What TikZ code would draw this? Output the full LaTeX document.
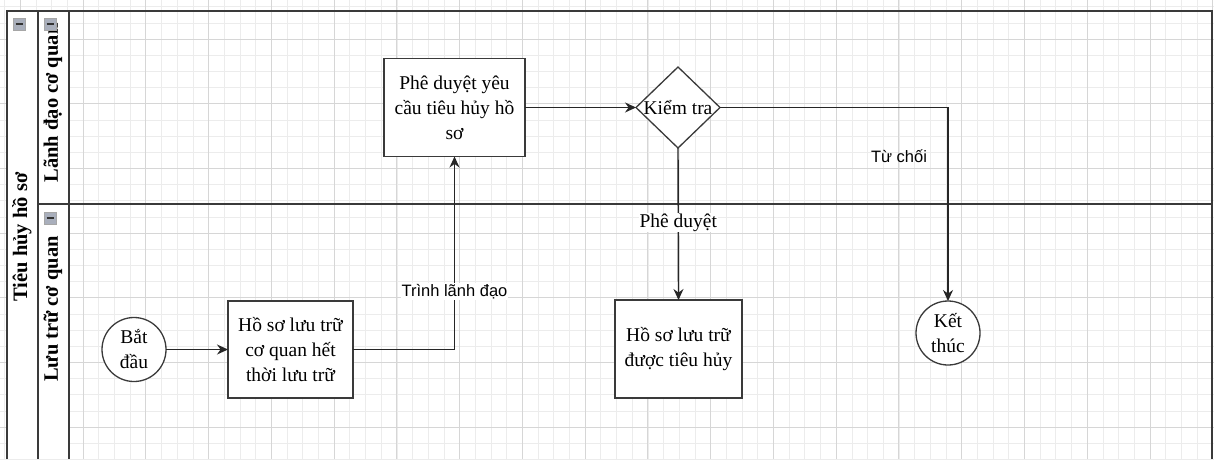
\documentclass[tikz,border=0pt]{standalone}
\usepackage{fontspec}
\setmainfont{Liberation Serif}
\newfontfamily\arialf{Liberation Sans}
\usetikzlibrary{shapes.geometric,arrows.meta}
\definecolor{frame}{HTML}{3A3A3A}
\definecolor{gmajor}{HTML}{D6D6D6}
\definecolor{gminor}{HTML}{ECECEC}
\definecolor{iconfill}{HTML}{A9AFBC}
\begin{document}
\begin{tikzpicture}[x=1pt,y=-1pt,
  every node/.style={inner sep=0pt, outer sep=0pt},
  box/.style={draw=frame, line width=1.6pt, fill=white, rectangle, align=center,
    font=\fontsize{19.5}{25}\selectfont},
  circ/.style={draw=frame, line width=1.3pt, fill=white, circle, minimum size=64pt, align=center,
    font=\fontsize{19.5}{25}\selectfont},
  dia/.style={draw=frame, line width=1.3pt, fill=white, diamond, minimum width=84pt, minimum height=81pt},
  txt/.style={font=\fontsize{19.5}{25}\selectfont},
  conn/.style={line width=1.4pt, draw=black!85, -{Stealth[length=11pt,width=10pt]}},
  lanetxt/.style={font=\fontsize{20.5}{24}\selectfont\bfseries, rotate=90},
  edgesans/.style={font=\arialf\fontsize{16.5}{20}\selectfont, fill=white, inner sep=1pt},
  edgeserif/.style={font=\fontsize{19.5}{24}\selectfont, fill=white, inner sep=1pt},
  frameline/.style={draw=frame, line width=1.8pt},
  icon/.style={draw=gray!70, fill=iconfill, line width=0.6pt}
]
\useasboundingbox (0,0) rectangle (1214,459);
\fill[white] (0,0) rectangle (1214,459);
% grid
\foreach \i in {-5,...,72} {\draw[gminor, line width=0.6pt] ({83+\i*15.69},0) -- ({83+\i*15.69},459);}
\foreach \i in {-2,...,26} {\draw[gminor, line width=0.6pt] (0,{39+\i*16.17}) -- (1214,{39+\i*16.17});}
\foreach \i in {-1,...,18} {\draw[gmajor, line width=0.8pt] ({83+\i*62.76},0) -- ({83+\i*62.76},459);}
\foreach \i in {0,...,6} {\draw[gmajor, line width=0.8pt] (0,{39+\i*64.67}) -- (1214,{39+\i*64.67});}
% header columns
\fill[white] (7,11) rectangle (69,459);
% frame
\draw[frameline] (7,459) -- (7,11) -- (1212,11) -- (1212,459);
\draw[frameline] (38,11) -- (38,459);
\draw[frameline] (69,11) -- (69,459);
\draw[frameline] (38,204) -- (1212,204);
% labels
\node[lanetxt] (pool) at (22,237) {Tiêu hủy hồ sơ};
\node[lanetxt] (lane1) at (53,103) {Lãnh đạo cơ quan};
\node[lanetxt] (lane2) at (53,309) {Lưu trữ cơ quan};
% icons
\foreach \cx/\cy/\nm in {19/24/ia, 50/24/ib, 50/218/ic} {
  \node[icon, minimum size=12pt, rectangle] (\nm) at (\cx,\cy) {};
  \draw[black!80, line width=1.3pt] (\cx-3.5,\cy) -- (\cx+3.5,\cy);
}
% nodes
\node[circ] (start) at (134,349.5) {Bắt\\đầu};
\node[box, minimum width=125pt, minimum height=97pt] (hs1) at (290.5,349.5) {Hồ sơ lưu trữ\\cơ quan hết\\thời lưu trữ};
\node[box, minimum width=141pt, minimum height=98pt] (pd) at (454.5,107.5) {Phê duyệt yêu\\cầu tiêu hủy hồ\\sơ};
\node[dia] (kt) at (678,107.5) {};
\node[txt] (ktl) at (kt.center) {Kiểm tra};
\node[box, minimum width=127pt, minimum height=98pt] (hs2) at (678.5,349) {Hồ sơ lưu trữ\\được tiêu hủy};
\node[circ] (end) at (948,333) {Kết\\thúc};
% connectors
\draw[conn] (start.east) -- (hs1.west);
\draw[conn] (hs1.east) -| node[edgesans, pos=0.65] {Trình lãnh đạo} (pd.south);
\draw[conn] (pd.east) -- (kt.west);
\draw[conn] (kt.south) -- node[edgeserif, pos=0.49] {Phê duyệt} (hs2.north);
\draw[conn] (kt.east) -| node[edgesans, pos=0.625, anchor=east, xshift=-20pt, fill=none] {Từ chối} (end.north);
\end{tikzpicture}
\end{document}
